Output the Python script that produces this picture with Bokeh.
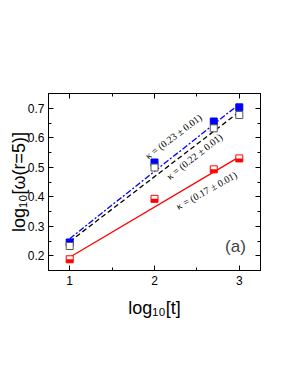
import math
from bokeh.plotting import figure
from bokeh.models import Range1d, LinearAxis, FixedTicker, Label
from bokeh.embed import file_html
from bokeh.resources import INLINE

# ---- data ----
log_t = [1.0, 2.0, 2.699, 3.0]
blue_vals = [0.245, 0.516, 0.655, 0.703]
open_vals = [0.233, 0.499, 0.632, 0.677]
red_vals = [0.188, 0.393, 0.493, 0.530]
fit_x = [1.0, 3.0]
blue_fit = [0.258, 0.714]
black_fit = [0.248, 0.688]
red_fit = [0.195, 0.535]
kappa_labels = ["κ = (0.23 ± 0.01)", "κ = (0.22 ± 0.01)", "κ = (0.17 ± 0.01)"]
x_ticks = [1, 2, 3]
x_minor = [1.5, 2.5]
y_ticks = [0.2, 0.3, 0.4, 0.5, 0.6, 0.7]
y_minor = [0.25, 0.35, 0.45, 0.55, 0.65]
x_title = "log₁₀[t]"
y_title = "log₁₀[ω(r=5)]"

W, H = 284, 372
BL, BR, BT, BB = 48, 24, 93, 102
X0, X1, Y0, Y1 = 0.75, 3.25, 0.15, 0.75
FW, FH = W - BL - BR, H - BT - BB

def dx(px):  # page pixel -> data x
    return X0 + (px - 8 - BL) * (X1 - X0) / FW

def dy(py):  # page pixel -> data y
    return Y1 - (py - 8 - BT) * (Y1 - Y0) / FH

p = figure(width=W, height=H, x_range=Range1d(X0, X1), y_range=Range1d(Y0, Y1),
           output_backend="svg", toolbar_location=None,
           min_border_left=BL, min_border_right=BR, min_border_top=BT, min_border_bottom=BB)
p.grid.visible = False
p.outline_line_color = "black"
p.outline_line_width = 1
p.background_fill_color = "white"
p.border_fill_color = "white"

def style_axis(ax, ticks, minor, labels=True):
    ax.ticker = FixedTicker(ticks=ticks, minor_ticks=minor)
    ax.axis_line_color = "black"
    ax.major_tick_line_color = "black"
    ax.minor_tick_line_color = "black"
    ax.major_tick_in = 5
    ax.major_tick_out = 0
    ax.minor_tick_in = 3
    ax.minor_tick_out = 0
    ax.major_label_text_font = "Liberation Sans"
    if labels:
        ax.major_label_text_font_size = "12px"
        ax.major_label_text_color = "black"
    else:
        ax.major_label_text_font_size = "1px"
        ax.major_label_text_color = None
    ax.major_label_standoff = 5
    ax.axis_label_text_font = "Liberation Sans"
    ax.axis_label_text_font_size = "18px"
    ax.axis_label_text_font_style = "normal"
    ax.axis_label_text_color = "black"

style_axis(p.xaxis[0], x_ticks, x_minor)
style_axis(p.yaxis[0], y_ticks, y_minor)
p.xaxis[0].axis_label = x_title
p.xaxis[0].axis_label_standoff = 10
p.yaxis[0].axis_label = y_title
p.yaxis[0].axis_label_standoff = -4
p.yaxis[0].major_label_standoff = 4
top = LinearAxis()
style_axis(top, x_ticks, x_minor, labels=False)
right = LinearAxis()
style_axis(right, y_ticks, y_minor, labels=False)
p.add_layout(top, "above")
p.add_layout(right, "right")

# fit lines
p.line(fit_x, blue_fit, line_color="#0000ff", line_width=1.3, line_dash="6 2 2 2")
p.line(fit_x, black_fit, line_color="black", line_width=1.3, line_dash="5 3")
p.line(fit_x, red_fit, line_color="#ff0000", line_width=1.3)

# markers
p.scatter(log_t, blue_vals, marker="square", size=7, fill_color="#0000ff", line_color="#0000ff")
p.scatter(log_t, open_vals, marker="square", size=7, fill_color="white", line_color="#555555")
p.scatter(log_t, red_vals, marker="square", size=7, fill_color="white", line_color="#ff0000")
half = 1.75 * (Y1 - Y0) / FH
p.rect(log_t, [v - half for v in red_vals], width=7, height=3.5,
       width_units="screen", height_units="screen", fill_color="#ff0000", line_color=None)

# kappa annotations
kap_pos = [(181, 144, 37), (202, 164, 38), (214, 198, 29)]
for txt, (px, py, ang) in zip(kappa_labels, kap_pos):
    p.add_layout(Label(x=dx(px), y=dy(py), text=txt, angle=math.radians(ang),
                       text_font="Liberation Serif", text_font_size="10px",
                       text_color="black", text_align="center", text_baseline="middle"))

p.add_layout(Label(x=dx(243), y=dy(254), text="(a)", text_font="Liberation Sans",
                   text_font_size="17px", text_align="center", text_baseline="middle"))

open("out.html", "w").write(file_html(p, INLINE))
